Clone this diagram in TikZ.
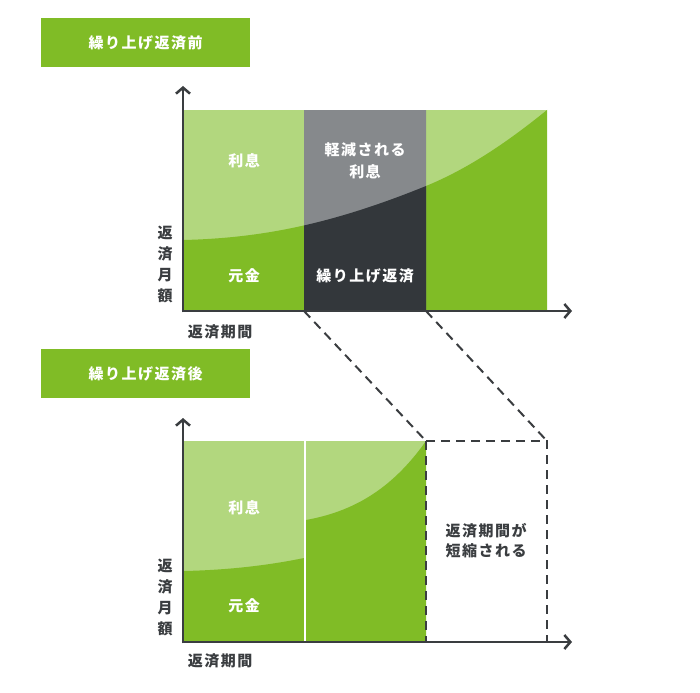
\documentclass[tikz,border=0pt]{standalone}
\usepackage{fontspec}
\setmainfont{Noto Sans CJK JP}[LetterSpace=10]
\usetikzlibrary{arrows.meta}
\definecolor{grn}{HTML}{80BC26}
\definecolor{lgrn}{HTML}{B2D77E}
\definecolor{gry}{HTML}{86898C}
\definecolor{drk}{HTML}{33373B}
\definecolor{axc}{HTML}{3A3D40}
\tikzset{
  lbl/.style={font=\fontsize{15}{22}\selectfont\bfseries, text=white, inner sep=0pt},
  dlbl/.style={font=\fontsize{15}{20}\selectfont\bfseries, text=axc, inner sep=0pt, align=center},
  tagbox/.style={fill=grn, minimum width=209pt, minimum height=49pt, anchor=north west, inner sep=0pt, font=\fontsize{15}{18}\selectfont\bfseries, text=white},
  axis/.style={draw=axc, line width=2.5pt, -{Straight Barb[length=6pt,width=14pt,line width=2.5pt]}},
  dsh/.style={draw=axc, line width=2pt, dash pattern=on 9pt off 6pt},
  vtext/.style={font=\fontsize{15}{21}\selectfont\bfseries, text=axc, align=center, inner sep=0pt}
}
\begin{document}
\begin{tikzpicture}[x=1pt,y=-1pt]
\useasboundingbox (0,0) rectangle (700,692);
% ---------- top ----------
\node[tagbox] (tag1) at (41,18) {繰り上げ返済前};
% chart
\fill[lgrn] (184,110) rectangle (547,311);
\fill[grn] (184,311) -- (184,240) .. controls (260,238) and (330,225) .. (426,186) .. controls (470,168) and (510,140) .. (547,110) -- (547,311) -- cycle;
\begin{scope}
\clip (304,100) rectangle (426,311);
\fill[gry] (184,110) rectangle (547,311);
\fill[drk] (184,311) -- (184,240) .. controls (260,238) and (330,225) .. (426,186) .. controls (470,168) and (510,140) .. (547,110) -- (547,311) -- cycle;
\end{scope}
\node[lbl] (ri1) at (244,161) {利息};
\node[lbl] (gk1) at (244,276) {元金};
\node[lbl, align=center] (kg) at (365,161) {軽減される\\利息};
\node[lbl] (kr) at (365,276) {繰り上げ返済};
\coordinate (o1) at (183,311);
\coordinate (yt1) at (183,86);
\coordinate (xt1) at (572,311);
\draw[axis] (183,312.25) -- (yt1);
\draw[axis] (181.75,311) -- (xt1);
\node[vtext] (vy1) at (165,264) {返\\済\\月\\額};
\node[dlbl] (vx1) at (220,332) {返済期間};
% dashed connectors
\coordinate (a1) at (304,311);
\coordinate (a2) at (426,311);
\coordinate (b1) at (426,441);
\coordinate (b2) at (547,441);
\draw[dsh] (a1) -- (b1);
\draw[dsh] (a2) -- (b2);
% ---------- bottom ----------
\node[tagbox] (tag2) at (41,349) {繰り上げ返済後};
\fill[lgrn] (184,441) rectangle (426,642);
\fill[grn] (184,642) -- (184,571) .. controls (230,570) and (270,565) .. (304,558) -- (304,642) -- cycle;
\fill[grn] (306,642) -- (306,520) .. controls (350,512) and (390,492) .. (426,441) -- (426,642) -- cycle;
\draw[white, line width=2.5pt] (305,441) -- (305,642);
\draw[dsh] (b1) -- (426,642);
\draw[dsh] (b1) -- (b2) -- (547,642);
\node[lbl] (ri2) at (244,508) {利息};
\node[lbl] (gk2) at (244,606) {元金};
\node[dlbl] (tan) at (486,541) {返済期間が\\短縮される};
\draw[axis] (183,643.25) -- (183,418);
\draw[axis] (181.75,642) -- (572,642);
\node[vtext] (vy2) at (165,597) {返\\済\\月\\額};
\node[dlbl] (vx2) at (220,661) {返済期間};
\end{tikzpicture}
\end{document}
